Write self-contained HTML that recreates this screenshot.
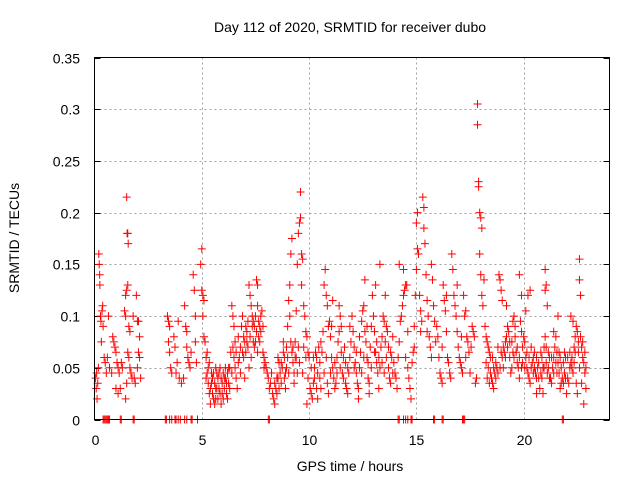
<!DOCTYPE html>
<html><head><meta charset="utf-8"><style>
html,body{margin:0;padding:0;background:#fff;}
svg{display:block;font-family:"Liberation Sans",sans-serif;}
</style></head><body>
<svg id="chart" width="640" height="480" viewBox="0 0 640 480" xmlns="http://www.w3.org/2000/svg">
<text x="350" y="32" font-size="14" text-anchor="middle" fill="#000">Day 112 of 2020, SRMTID for receiver dubo</text>
<text transform="translate(19,238) rotate(-90)" font-size="14" text-anchor="middle" fill="#000">SRMTID / TECUs</text>
<text x="350" y="471" font-size="14" text-anchor="middle" fill="#000">GPS time / hours</text>
<g id="grid"></g>
<g id="ticks"></g>
<g id="marks"></g>
<rect x="94.5" y="57.5" width="515" height="362" fill="none" stroke="#000" stroke-width="1"/>
</svg>
<script>
const xTicks = [0,5,10,15,20];
const xTickLabels = ["0","5","10","15","20"];
const yTicks = [0,0.05,0.1,0.15,0.2,0.25,0.3,0.35];
const yTickLabels = ["0","0.05","0.1","0.15","0.2","0.25","0.3","0.35"];
const samples = [
[0.05,0.04],[0.08,0.03],[0.1,0.045],[0.12,0.02],[0.15,0.035],[0.18,0.05],[0.2,0.16],[0.22,0.15],[0.24,0.14],[0.25,0.13],[0.28,0.1],[0.3,0.095],[0.32,0.075],[0.35,0.105],[0.38,0.11],[0.4,0.09],[0.45,0.06],[0.5,0.055],[0.55,0.045],[0.6,0.06],[0.65,0.1],[0.7,0.05],[0.8,0.045],[0.85,0.08],[0.9,0.075],[0.95,0.07],[1.0,0.065],[1.05,0.055],[1.1,0.05],[1.15,0.045],[1.0,0.03],[1.1,0.025],[1.2,0.03],[1.25,0.055],[1.3,0.05],
[1.4,0.105],[1.45,0.1],[1.5,0.215],[1.52,0.18],[1.55,0.18],[1.57,0.17],[1.5,0.125],[1.55,0.13],[1.45,0.12],[1.6,0.09],[1.65,0.085],[1.55,0.065],[1.6,0.06],[1.65,0.05],[1.7,0.045],[1.75,0.04],[1.5,0.035],[1.45,0.02],[1.8,0.1],[1.85,0.04],[1.9,0.035],[1.95,0.12],[2.0,0.095],[2.05,0.095],[2.1,0.08],[2.05,0.065],[2.1,0.06],[2.0,0.05],[2.15,0.04],
[3.4,0.1],[3.45,0.095],[3.5,0.09],[3.45,0.075],[3.5,0.065],[3.55,0.05],[3.6,0.045],[3.7,0.08],[3.75,0.07],[3.8,0.045],[3.85,0.055],[3.9,0.095],[3.95,0.04],[4.05,0.035],[4.15,0.04],[4.2,0.11],[4.25,0.09],[4.3,0.085],[4.3,0.07],[4.35,0.06],[4.4,0.055],[4.45,0.05],[4.5,0.065],[4.6,0.14],[4.65,0.125],[4.7,0.1],[4.7,0.075],[4.75,0.055],
[4.95,0.15],[5.0,0.165],[5.0,0.125],[5.05,0.12],[5.1,0.115],[5.05,0.1],[5.1,0.08],[5.15,0.075],[5.2,0.06],[5.25,0.065],[5.3,0.05],[5.2,0.04],[5.3,0.035],[5.4,0.03],[5.45,0.045],[5.5,0.025],[5.55,0.02],[5.6,0.035],[5.65,0.03],[5.7,0.045],[5.75,0.02],[5.8,0.03],[5.85,0.025],[5.9,0.04],[5.95,0.035],[6.0,0.02],[6.05,0.03],[6.1,0.04],[6.15,0.025],[6.2,0.045],[6.25,0.035],[5.4,0.015],[5.6,0.015],[5.9,0.015],[6.3,0.05],[6.35,0.065],[6.4,0.11],[6.45,0.1],[6.5,0.09],[6.5,0.06],[6.55,0.05],[6.6,0.04],[6.65,0.03],[6.7,0.055],[5.35,0.055],[5.5,0.04],[5.75,0.04],[6.0,0.045],[5.65,0.05],[5.85,0.05],[6.1,0.05],[6.2,0.02],
[6.8,0.07],[6.85,0.09],[6.9,0.1],[6.95,0.08],[7.0,0.075],[7.05,0.065],[7.1,0.085],[7.15,0.095],[7.2,0.13],[7.25,0.12],[7.3,0.11],[7.35,0.09],[7.4,0.075],[7.45,0.07],[7.5,0.1],[7.55,0.135],[7.6,0.13],[7.6,0.11],[7.65,0.095],[7.7,0.09],[7.75,0.085],[7.8,0.105],[7.85,0.065],[7.9,0.06],[7.95,0.055],[7.5,0.075],[7.3,0.06],[7.2,0.05],[7.0,0.04],[6.95,0.06],[7.7,0.075],[7.4,0.095],[7.1,0.075],[6.8,0.045],[7.6,0.065],
[8.0,0.05],[8.05,0.045],[8.1,0.04],[8.15,0.03],[8.2,0.035],[8.3,0.025],[8.35,0.02],[8.4,0.015],[8.45,0.03],[8.5,0.04],[8.55,0.06],[8.6,0.055],[8.65,0.045],[8.7,0.035],[8.75,0.05],[8.8,0.065],[8.85,0.06],[8.9,0.045],[8.95,0.07],[9.0,0.09],[9.05,0.115],[9.1,0.13],[9.15,0.16],[9.2,0.175],[9.1,0.1],[9.15,0.075],[9.2,0.065],[9.25,0.055],[9.3,0.045],[9.35,0.075],[9.4,0.105],[9.45,0.15],[9.5,0.18],[9.55,0.19],[9.6,0.22],[9.6,0.195],[9.65,0.16],[9.65,0.13],[9.7,0.155],[9.75,0.11],[9.8,0.1],[9.85,0.085],[9.9,0.08],[9.95,0.065],[10.0,0.06],[9.7,0.045],[9.5,0.07],[9.3,0.035],[8.9,0.03],[8.6,0.03],[9.9,0.015],[8.8,0.075],[9.0,0.06],[9.4,0.06],[8.5,0.025],
[10.05,0.03],[10.1,0.025],[10.15,0.02],[10.2,0.035],[10.25,0.05],[10.3,0.065],[10.35,0.06],[10.4,0.045],[10.45,0.07],[10.5,0.04],[10.55,0.03],[10.6,0.065],[10.65,0.085],[10.7,0.13],[10.75,0.145],[10.8,0.12],[10.85,0.11],[10.9,0.09],[10.95,0.095],[11.0,0.08],[11.05,0.06],[11.1,0.05],[11.15,0.04],[11.2,0.03],[11.25,0.035],[11.3,0.06],[11.35,0.075],[11.4,0.085],[11.45,0.1],[11.5,0.065],[11.55,0.045],[11.6,0.04],[11.7,0.055],[11.75,0.03],[11.8,0.025],[11.85,0.045],[11.9,0.06],[11.95,0.075],[10.4,0.02],[10.9,0.025],[11.4,0.11],[11.1,0.115],[12.0,0.1],[11.65,0.07],[10.2,0.06],
[12.05,0.085],[12.1,0.07],[12.15,0.055],[12.2,0.045],[12.25,0.035],[12.3,0.03],[12.35,0.05],[12.4,0.065],[12.45,0.095],[12.5,0.105],[12.55,0.11],[12.6,0.085],[12.65,0.075],[12.7,0.06],[12.75,0.04],[12.8,0.035],[12.85,0.07],[12.9,0.09],[12.95,0.12],[13.0,0.1],[13.05,0.085],[13.1,0.065],[13.15,0.055],[13.2,0.045],[13.25,0.03],[13.3,0.05],[13.35,0.07],[13.4,0.08],[13.45,0.1],[13.5,0.095],[13.55,0.075],[13.6,0.06],[13.65,0.085],[13.7,0.05],[13.75,0.04],[13.8,0.035],[13.85,0.06],[13.9,0.08],[13.95,0.055],[12.3,0.02],[12.8,0.025],[13.1,0.13],[13.3,0.15],[12.6,0.135],[13.55,0.12],
[14.0,0.045],[14.05,0.04],[14.1,0.03],[14.15,0.06],[14.2,0.075],[14.25,0.095],[14.3,0.1],[14.35,0.11],[14.4,0.12],[14.45,0.125],[14.5,0.13],[14.55,0.13],[14.6,0.05],[14.65,0.04],[14.7,0.03],[14.75,0.02],[14.8,0.055],[14.85,0.065],[14.9,0.09],[14.95,0.12],[15.0,0.145],[15.0,0.19],[15.05,0.2],[15.05,0.165],[15.1,0.16],[15.15,0.12],[15.2,0.105],[15.25,0.095],[15.3,0.215],[15.35,0.205],[15.35,0.185],[15.4,0.17],[15.45,0.14],[15.5,0.115],[15.55,0.1],[15.6,0.08],[15.65,0.07],[15.7,0.15],[15.75,0.135],[15.8,0.11],[15.85,0.095],[15.9,0.075],[15.95,0.09],[14.2,0.15],[14.4,0.145],[14.6,0.085],[14.5,0.06],[14.9,0.07],[15.2,0.085],[15.5,0.085],[15.7,0.06],
[16.0,0.08],[16.05,0.06],[16.1,0.045],[16.15,0.04],[16.2,0.035],[16.25,0.13],[16.3,0.115],[16.35,0.105],[16.4,0.085],[16.45,0.06],[16.5,0.055],[16.55,0.045],[16.6,0.04],[16.65,0.16],[16.7,0.145],[16.75,0.12],[16.8,0.11],[16.85,0.1],[16.9,0.085],[16.95,0.07],[17.0,0.06],[17.05,0.055],[17.1,0.05],[17.15,0.045],[17.2,0.12],[17.25,0.1],[17.3,0.105],[17.35,0.08],[17.4,0.075],[17.45,0.065],[17.5,0.045],[17.55,0.07],[17.6,0.09],[17.65,0.085],[17.7,0.08],[17.75,0.035],[17.8,0.04],[17.85,0.305],[17.85,0.285],[17.9,0.23],[17.9,0.225],[17.95,0.2],[18.0,0.195],[18.05,0.185],[17.95,0.16],[18.0,0.14],[18.05,0.12],[18.1,0.11],[18.15,0.135],[16.9,0.13],[17.1,0.08],[16.4,0.12],[16.2,0.07],[17.3,0.06],
[18.2,0.09],[18.25,0.08],[18.3,0.075],[18.35,0.07],[18.4,0.065],[18.45,0.06],[18.5,0.04],[18.55,0.035],[18.6,0.03],[18.65,0.045],[18.7,0.055],[18.75,0.05],[18.8,0.045],[18.85,0.14],[18.9,0.135],[18.95,0.125],[19.0,0.06],[19.05,0.07],[19.1,0.065],[19.15,0.075],[19.2,0.08],[19.25,0.09],[19.3,0.085],[19.35,0.06],[19.4,0.045],[19.45,0.075],[19.5,0.095],[19.55,0.1],[19.6,0.08],[19.65,0.065],[19.7,0.055],[19.75,0.05],[19.8,0.04],[19.85,0.095],[19.9,0.085],[19.95,0.07],[20.0,0.08],[18.4,0.035],[18.3,0.04],[18.8,0.07],[19.0,0.115],[19.2,0.11],[19.8,0.14],[19.9,0.12],[19.5,0.065],
[20.05,0.075],[20.1,0.06],[20.15,0.05],[20.2,0.045],[20.25,0.04],[20.3,0.035],[20.35,0.05],[20.4,0.055],[20.45,0.06],[20.5,0.065],[20.55,0.045],[20.6,0.04],[20.65,0.05],[20.7,0.055],[20.75,0.03],[20.8,0.045],[20.85,0.06],[20.9,0.05],[20.95,0.07],[21.0,0.08],[21.05,0.055],[21.1,0.045],[21.15,0.065],[21.2,0.06],[21.25,0.04],[21.3,0.035],[21.35,0.05],[21.4,0.06],[21.45,0.07],[21.5,0.08],[21.55,0.065],[21.6,0.055],[21.65,0.045],[21.7,0.06],[21.75,0.05],[21.8,0.04],[21.85,0.035],[21.9,0.045],[21.95,0.06],[20.2,0.12],[20.3,0.125],[20.1,0.105],[21.0,0.145],[21.05,0.13],[21.0,0.125],[21.1,0.11],[20.6,0.025],[20.9,0.025],[21.4,0.085],[21.6,0.1],[21.7,0.03],[22.0,0.025],
[22.05,0.04],[22.1,0.035],[22.15,0.05],[22.2,0.055],[22.25,0.06],[22.3,0.045],[22.35,0.07],[22.4,0.065],[22.45,0.09],[22.5,0.085],[22.55,0.075],[22.6,0.155],[22.6,0.135],[22.65,0.12],[22.65,0.08],[22.7,0.07],[22.75,0.06],[22.8,0.055],[22.85,0.045],[22.9,0.05],[22.45,0.035],[22.5,0.025],[22.7,0.035],[22.8,0.015],[22.9,0.03],[22.2,0.1],[22.3,0.095]
];
const extraSamples = [
[5.25,0.045],[5.35,0.025],[5.45,0.035],[5.55,0.045],[5.65,0.02],[5.7,0.03],[5.8,0.045],[5.95,0.025],[6.05,0.04],[6.15,0.035],[6.25,0.05],[6.3,0.03],[6.4,0.045],[6.45,0.07],[6.55,0.075],[6.6,0.065],[6.7,0.08],[6.75,0.06],[6.9,0.065],[7.05,0.09],[7.15,0.07],[7.25,0.08],[7.35,0.1],[7.45,0.09],[7.55,0.085],[7.65,0.08],[7.75,0.1],[7.85,0.09],[7.9,0.05],
[8.25,0.045],[8.4,0.035],[8.55,0.04],[8.7,0.055],[8.85,0.04],[8.95,0.05],[9.05,0.045],[9.25,0.07],[9.35,0.06],[9.45,0.045],[9.55,0.055],[9.75,0.07],[9.85,0.06],[9.95,0.04],
[10.1,0.05],[10.25,0.04],[10.35,0.03],[10.5,0.055],[10.55,0.075],[10.7,0.045],[10.8,0.06],[10.85,0.035],[11.0,0.045],[11.05,0.09],[11.2,0.055],[11.3,0.045],[11.45,0.05],[11.5,0.09],[11.6,0.06],[11.7,0.035],[11.8,0.05],[11.9,0.09],
[12.1,0.05],[12.2,0.065],[12.35,0.08],[12.45,0.045],[12.55,0.06],[12.7,0.09],[12.75,0.055],[12.9,0.05],[13.05,0.065],[13.15,0.075],[13.25,0.06],[13.4,0.055],[13.5,0.045],[13.6,0.09],[13.7,0.07],[13.8,0.065],[13.9,0.045],
[18.25,0.055],[18.35,0.05],[18.45,0.045],[18.55,0.06],[18.6,0.05],[18.7,0.04],[18.9,0.05],[18.95,0.065],[19.05,0.05],[19.15,0.06],[19.25,0.07],[19.35,0.075],[19.45,0.05],[19.55,0.06],[19.6,0.09],[19.7,0.07],[19.8,0.06],[19.9,0.05],[19.95,0.055],
[20.05,0.05],[20.15,0.065],[20.25,0.06],[20.35,0.07],[20.45,0.045],[20.5,0.05],[20.6,0.06],[20.7,0.04],[20.8,0.065],[20.85,0.04],[20.95,0.05],[21.05,0.07],[21.15,0.05],[21.2,0.04],[21.3,0.06],[21.4,0.045],[21.5,0.055],[21.55,0.045],[21.65,0.065],[21.75,0.035],[21.85,0.055],[21.9,0.065],[21.95,0.04],
[22.05,0.06],[22.15,0.065],[22.25,0.05],[22.35,0.055],[22.4,0.08],[22.55,0.065],[22.6,0.05],[22.75,0.075],[22.85,0.065]
];
const zeroTimes = [0.4,0.45,0.5,0.55,0.6,0.65,0.7,1.2,1.25,1.8,1.85,3.3,3.35,3.5,3.6,3.75,3.8,3.9,4.0,4.2,4.3,4.5,4.55,4.8,8.1,8.15,14.15,14.2,14.4,14.5,14.6,14.75,14.8,15.8,15.85,16.2,16.25,17.15,17.2,17.25,21.8,21.85];

const X0=94.5, X1=609.5, Y0=419.5, Y1=57.5, XMAX=24, YMAX=0.35;
function xs(t){return X0+(X1-X0)*t/XMAX;}
function ys(v){return Y0-(Y0-Y1)*v/YMAX;}
const NS="http://www.w3.org/2000/svg";
const grid=document.getElementById('grid'), ticks=document.getElementById('ticks'), marks=document.getElementById('marks');
function mk(tag,attrs,parent){const e=document.createElementNS(NS,tag);for(const k in attrs)e.setAttribute(k,attrs[k]);parent.appendChild(e);return e;}
xTicks.forEach((t,i)=>{
  const x=Math.round(xs(t))+0.5;
  if(t>0){const g=mk('line',{x1:x,y1:Y0,x2:x,y2:Y1,stroke:'#a0a0a0','stroke-dasharray':'2,3'},grid);
  
  }
  const l=mk('text',{x:x,y:445,'font-size':14,'text-anchor':'middle',fill:'#000'},ticks);
  l.textContent=xTickLabels[i];
  
  
});
yTicks.forEach((v,i)=>{
  const y=Math.round(ys(v))+0.5;
  if(v>0&&v<YMAX){const g=mk('line',{x1:X0,y1:y,x2:X1,y2:y,stroke:'#a0a0a0','stroke-dasharray':'2,3'},grid);
  
  }
  mk('line',{x1:X0,y1:y,x2:X0+6,y2:y,stroke:'#000'},ticks);
  mk('line',{x1:X1,y1:y,x2:X1-6,y2:y,stroke:'#000'},ticks);
  const l=mk('text',{x:80,y:y+5,'font-size':14,'text-anchor':'end',fill:'#000'},ticks);
  l.textContent=yTickLabels[i];
  
  
});
function plus(t,v){
  const x=xs(t), y=ys(v);
  const p=mk('path',{d:`M${x-4},${y}H${x+4}M${x},${y-4}V${y+4}`,stroke:'#ff0000','stroke-width':1,fill:'none'},marks);
  
  
}
samples.forEach(s=>plus(s[0],s[1]));
extraSamples.forEach(s=>plus(s[0],s[1]));
zeroTimes.forEach(t=>plus(t,0));
</script>
</body></html>
